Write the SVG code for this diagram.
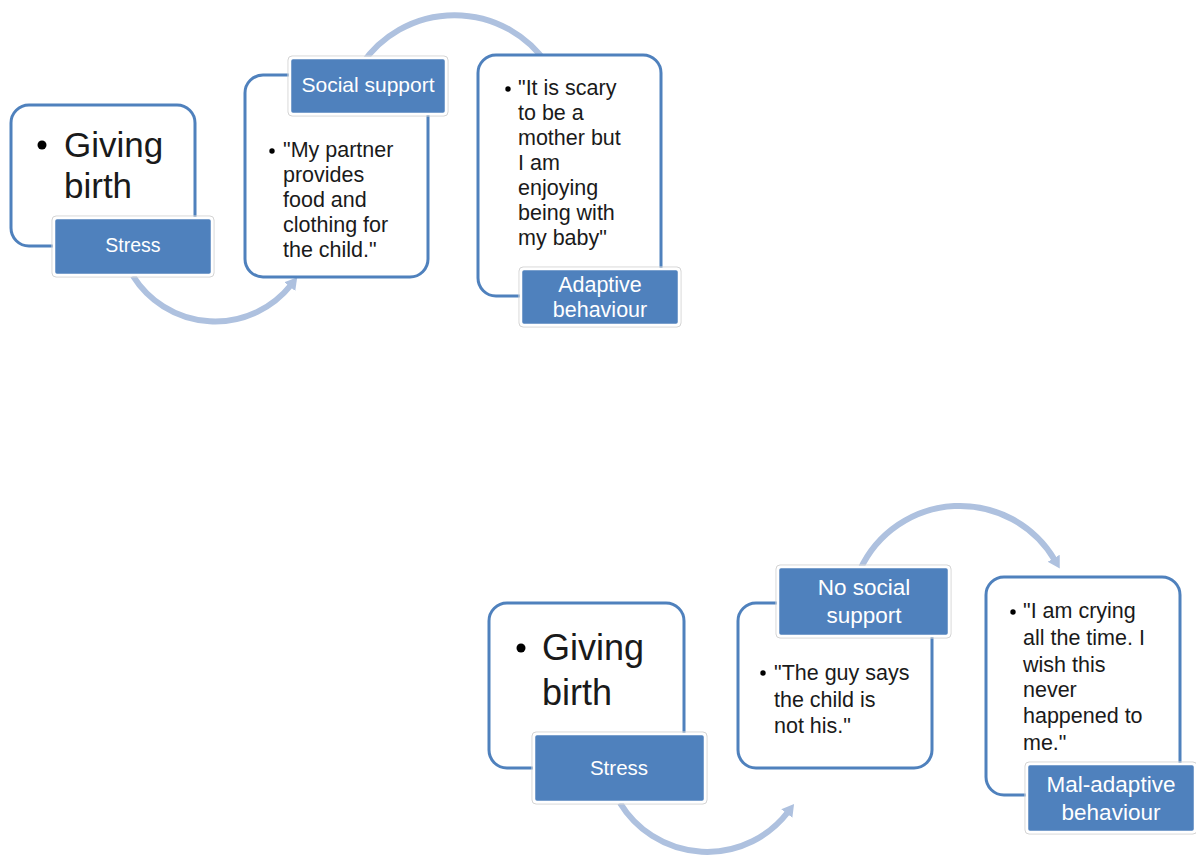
<svg xmlns="http://www.w3.org/2000/svg" width="1196" height="856" viewBox="0 0 1196 856">
<defs>
<style>
.box{fill:#ffffff;stroke:#4f81bd;stroke-width:3}
.lab{fill:#4f81bd;stroke:#ffffff;stroke-width:2.5}
.labo{fill:none;stroke:#d4d4d4;stroke-width:1}
.t{font-family:"Liberation Sans",Arial,sans-serif;fill:#1a1a1a}
.w{font-family:"Liberation Sans",Arial,sans-serif;fill:#ffffff;text-anchor:middle}
.arc{fill:none;stroke:#aec1df;stroke-width:6}
</style>
<marker id="ah" markerUnits="userSpaceOnUse" markerWidth="14" markerHeight="16" refX="2" refY="8" orient="auto">
<path d="M0,1 L12,8 L0,15 z" fill="#aec1df"/>
</marker>
</defs>
<rect width="1196" height="856" fill="#ffffff"/>
<g id="connectors">
<path class="arc" d="M362,64 A112,112 0 0 1 547,64"/>
<path class="arc" d="M133,276 A97,97 0 0 0 291,285" marker-end="url(#ah)"/>
<path class="arc" d="M860,570 A110,110 0 0 1 1054.7,560" marker-end="url(#ah)"/>
<path class="arc" d="M620,803 A102,102 0 0 0 788,812" marker-end="url(#ah)"/>
</g>
<g id="top-giving-birth">
<rect class="box" x="11" y="105" width="184" height="141" rx="18"/>
<circle cx="42" cy="145" r="4.5" fill="#000"/>
<text class="t" font-size="35" x="64" y="157">Giving</text>
<text class="t" font-size="35" x="64" y="198">birth</text>
</g>
<g id="top-stress">
<rect class="labo" x="52" y="216" width="162" height="61" rx="4"/>
<rect class="lab" x="54" y="218" width="158" height="57" rx="3"/>
<text class="w" font-size="19.5" x="133" y="252">Stress</text>
</g>
<g id="top-social-content">
<rect class="box" x="245" y="75" width="183" height="202" rx="18"/>
<circle cx="272" cy="151" r="2.7" fill="#000"/>
<text class="t" font-size="21.5" x="283" y="157">"My partner</text>
<text class="t" font-size="21.5" x="283" y="182">provides</text>
<text class="t" font-size="21.5" x="283" y="207">food and</text>
<text class="t" font-size="21.5" x="283" y="232">clothing for</text>
<text class="t" font-size="21.5" x="283" y="257">the child."</text>
</g>
<g id="top-social-support">
<rect class="labo" x="288" y="56" width="160" height="60" rx="4"/>
<rect class="lab" x="290" y="58" width="156" height="56" rx="3"/>
<text class="w" font-size="21" x="368" y="92">Social support</text>
</g>
<g id="top-adaptive-content">
<rect class="box" x="478" y="55" width="183" height="241" rx="18"/>
<circle cx="508" cy="89" r="2.7" fill="#000"/>
<text class="t" font-size="21.5" x="518" y="95">"It is scary</text>
<text class="t" font-size="21.5" x="518" y="120">to be a</text>
<text class="t" font-size="21.5" x="518" y="145">mother but</text>
<text class="t" font-size="21.5" x="518" y="170">I am</text>
<text class="t" font-size="21.5" x="518" y="195">enjoying</text>
<text class="t" font-size="21.5" x="518" y="220">being with</text>
<text class="t" font-size="21.5" x="518" y="245">my baby"</text>
</g>
<g id="top-adaptive-behaviour">
<rect class="labo" x="519" y="267" width="162" height="60" rx="4"/>
<rect class="lab" x="521" y="269" width="158" height="56" rx="3"/>
<text class="w" font-size="21.5" x="600" y="292">Adaptive</text>
<text class="w" font-size="21.5" x="600" y="317">behaviour</text>
</g>
<g id="bottom-giving-birth">
<rect class="box" x="489" y="603" width="195" height="165" rx="18"/>
<circle cx="521" cy="648" r="4.5" fill="#000"/>
<text class="t" font-size="36" x="542" y="660">Giving</text>
<text class="t" font-size="36" x="542" y="705">birth</text>
</g>
<g id="bottom-stress">
<rect class="labo" x="532" y="732" width="175" height="72" rx="4"/>
<rect class="lab" x="534" y="734" width="171" height="68" rx="3"/>
<text class="w" font-size="20.5" x="619" y="775">Stress</text>
</g>
<g id="bottom-no-social-content">
<rect class="box" x="738" y="603" width="194" height="165" rx="18"/>
<circle cx="763" cy="673" r="2.7" fill="#000"/>
<text class="t" font-size="21.5" x="774" y="680">"The guy says</text>
<text class="t" font-size="21.5" x="774" y="707">the child is</text>
<text class="t" font-size="21.5" x="774" y="733">not his."</text>
</g>
<g id="bottom-no-social-support">
<rect class="labo" x="776" y="565" width="175" height="73" rx="4"/>
<rect class="lab" x="778" y="567" width="171" height="69" rx="3"/>
<text class="w" font-size="22.5" x="864" y="595">No social</text>
<text class="w" font-size="22.5" x="864" y="623">support</text>
</g>
<g id="bottom-maladaptive-content">
<rect class="box" x="986" y="577" width="194" height="218" rx="18"/>
<circle cx="1013" cy="612" r="2.7" fill="#000"/>
<text class="t" font-size="21.5" x="1023" y="618">"I am crying</text>
<text class="t" font-size="21.5" x="1023" y="645">all the time. I</text>
<text class="t" font-size="21.5" x="1023" y="672">wish this</text>
<text class="t" font-size="21.5" x="1023" y="697">never</text>
<text class="t" font-size="21.5" x="1023" y="723">happened to</text>
<text class="t" font-size="21.5" x="1023" y="750">me."</text>
</g>
<g id="bottom-maladaptive-behaviour">
<rect class="labo" x="1025" y="762" width="172" height="72" rx="4"/>
<rect class="lab" x="1027" y="764" width="168" height="68" rx="3"/>
<text class="w" font-size="22.5" x="1111" y="792">Mal-adaptive</text>
<text class="w" font-size="22.5" x="1111" y="820">behaviour</text>
</g>
</svg>
